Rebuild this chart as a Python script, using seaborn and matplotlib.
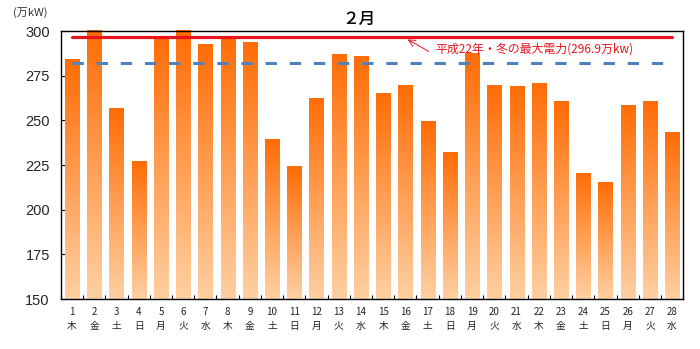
import numpy as np
import pandas as pd
import matplotlib
matplotlib.use("Agg")
import matplotlib.pyplot as plt
import seaborn as sns
from matplotlib.colors import LinearSegmentedColormap

days = [str(i) for i in range(1, 29)]
weekdays = ["木", "金", "土", "日", "月", "火", "水", "木", "金", "土", "日", "月", "火", "水",
            "木", "金", "土", "日", "月", "火", "水", "木", "金", "土", "日", "月", "火", "水"]
values = [284.2, 301, 256.8, 227.4, 297.0, 301, 292.8, 297.0, 294.0, 239.8, 224.4, 262.7, 287.2, 286.0,
          265.3, 269.7, 249.5, 232.2, 288.0, 269.7, 269.3, 271.2, 260.6, 220.7, 215.3, 258.6, 260.6, 243.6]
record_max = 296.9
forecast_line = 282.0
title = "２月"
unit_label = "(万kW)"
record_label = "平成22年・冬の最大電力(296.9万kw)"
yticks = [150, 175, 200, 225, 250, 275, 300]

sns.set_theme(style="white")
plt.rcParams['font.family'] = ['Noto Sans CJK JP', 'DejaVu Sans']

df = pd.DataFrame({"day": [f"{d}\n{w}" for d, w in zip(days, weekdays)], "value": values})

fig = plt.figure(figsize=(7.0, 3.49), dpi=100)
ax = fig.add_axes([0.087, 0.143, 0.889, 0.768])

sns.barplot(data=df, x="day", y="value", ax=ax, width=0.63, color="#FF7A1A",
            order=df["day"].tolist())

ax.set_ylim(150, 300)
ax.set_xlim(-0.5, len(values) - 0.5)

cmap = LinearSegmentedColormap.from_list("og", ["#FFD0A2", "#FF6C05"])
grad = np.linspace(0, 1, 256).reshape(-1, 1)
for p in ax.patches:
    x0 = p.get_x()
    w = p.get_width()
    top = min(p.get_y() + p.get_height(), 300)
    p.set_facecolor("none")
    p.set_edgecolor("none")
    im = ax.imshow(grad, extent=[x0, x0 + w, 150, top], origin="lower", cmap=cmap,
                   aspect="auto", zorder=2, vmin=0, vmax=1)
    im.set_clip_path(p)
ax.set_xlim(-0.5, len(values) - 0.5)
ax.set_ylim(150, 300)
ax.set_aspect("auto")

ax.plot([0, len(values) - 1], [record_max, record_max], color="#E8141E", lw=2.3, zorder=4)
ax.plot([0, len(values) - 1], [forecast_line, forecast_line], color="#4F81BD", lw=2.2,
        dashes=(3.7, 4.2), zorder=4)

ax.text(16.35, 290.0, record_label, color="#E8141E", fontsize=8.6, va="center", ha="left", zorder=5)
ax.annotate("", xy=(15.1, 295.3), xytext=(16.05, 288.6),
            arrowprops=dict(arrowstyle="->", color="#E8141E", lw=0.7, shrinkA=0, shrinkB=0), zorder=5)

ax.set_yticks(yticks)
ax.set_yticklabels([str(v) for v in yticks], fontsize=10.5, family=['Liberation Sans', 'DejaVu Sans'])
ax.tick_params(axis="y", direction="in", length=4, width=0.8, color="black", pad=8, left=True)
ax.tick_params(axis="x", which="major", length=0, pad=6)
ax.set_xticks(range(len(values)))
ax.set_xticklabels(df["day"], fontsize=7, linespacing=1.4, color="#222222")
ax.set_xticks(np.arange(-0.5, len(values), 1.0), minor=True)
ax.tick_params(axis="x", which="minor", direction="in", length=3, width=0.8, color="black", bottom=True)

for s in ax.spines.values():
    s.set_visible(True)
    s.set_color("black")
    s.set_linewidth(1.0)

ax.set_xlabel("")
ax.set_ylabel("")
ax.grid(False)

fig.text(0.513, 0.945, title, ha="center", va="center", fontsize=12, fontweight="medium", color="black")
fig.text(0.018, 0.965, unit_label, ha="left", va="center", fontsize=8, color="#333333")

fig.savefig("out.png", dpi=100)
